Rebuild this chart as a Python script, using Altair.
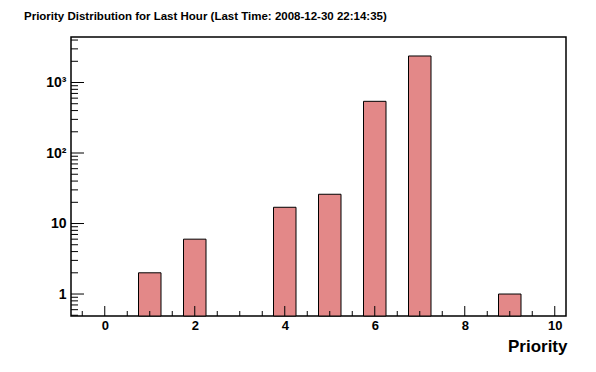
import altair as alt
import pandas as pd

# ---- data ----
priorities = [1, 2, 4, 5, 6, 7, 9]
counts = [2, 6, 17, 26, 541, 2377, 1]
bin_half_width = 0.25
x_domain = [-0.75, 10.25]
y_domain = [0.488, 4420]

x_label_values = [0, 2, 4, 6, 8, 10]
x_major_ticks = [0, 2, 4, 6, 8, 10]
x_minor_ticks = [-0.5, 0.5, 1, 1.5, 2.5, 3, 3.5, 4.5, 5, 5.5, 6.5, 7, 7.5,
                 8.5, 9, 9.5]
y_label_values = [1, 10, 100, 1000]
y_label_texts = ["1", "10", "10²", "10³"]
y_major_ticks = [1, 10, 100, 1000]
y_minor_ticks = [0.5, 0.6, 0.7, 0.8, 0.9,
                 2, 3, 4, 5, 6, 7, 8, 9,
                 20, 30, 40, 50, 60, 70, 80, 90,
                 200, 300, 400, 500, 600, 700, 800, 900,
                 2000, 3000, 4000]

title_text = "Priority Distribution for Last Hour (Last Time: 2008-12-30 22:14:35)"
x_title = "Priority"

FONT = "Liberation Sans"
W, H = 495, 279

bars_df = pd.DataFrame({"priority": priorities, "count": counts})
bars_df["lo"] = bars_df["priority"] - bin_half_width
bars_df["hi"] = bars_df["priority"] + bin_half_width

xs = alt.Scale(domain=x_domain, nice=False, zero=False)
ys = alt.Scale(type="log", domain=y_domain, nice=False)

label_expr = " : ".join(
    [f"datum.value == {v} ? '{t}'" for v, t in zip(y_label_values, y_label_texts)]
) + " : ''"

x_axis = alt.Axis(
    values=x_label_values, ticks=False, domain=False, grid=False,
    labelFont=FONT, labelFontSize=13, labelFontWeight="bold",
    labelColor="black", labelPadding=3,
    title=x_title, titleFont=FONT, titleFontSize=17, titleFontWeight="bold",
    titleColor="black", titleAnchor="end", titleAlign="right",
    titleBaseline="alphabetic", titleX=W + 1, titleY=35,
)
y_axis = alt.Axis(
    values=y_label_values, labelExpr=label_expr, ticks=False,
    domain=False, grid=False, labelFont=FONT, labelFontSize=14,
    labelFontWeight="bold", labelColor="black", labelPadding=5,
    title=None,
)

bars = alt.Chart(bars_df).mark_bar(
    fill="#e38888", stroke="black", strokeWidth=1
).encode(
    x=alt.X("lo:Q", scale=xs, axis=x_axis),
    x2="hi:Q",
    y=alt.Y("count:Q", scale=ys, axis=y_axis),
    y2=alt.datum(y_domain[0]),
)

def xticks(vals, length):
    return alt.Chart(pd.DataFrame({"v": vals})).mark_rule(
        color="black", strokeWidth=1
    ).encode(
        x=alt.X("v:Q", scale=xs, axis=x_axis),
        y=alt.value(H - length),
        y2=alt.value(H),
    )

def yticks(vals, length):
    return alt.Chart(pd.DataFrame({"v": vals})).mark_rule(
        color="black", strokeWidth=1
    ).encode(
        y=alt.Y("v:Q", scale=ys, axis=y_axis),
        x=alt.value(0),
        x2=alt.value(length),
    )

chart = alt.layer(
    bars,
    xticks(x_major_ticks, 10),
    xticks(x_minor_ticks, 5),
    yticks(y_major_ticks, 13),
    yticks(y_minor_ticks, 7),
).properties(
    width=W,
    height=H,
    title=alt.TitleParams(
        text=title_text, anchor="start", frame="group", font=FONT,
        fontSize=11.5, fontWeight="bold", color="black",
        baseline="alphabetic", offset=6, dx=-47,
    ),
    autosize=alt.AutoSizeParams(type="none"),
    padding={"left": 63, "top": 29, "right": 22, "bottom": 48},
    background="white",
).configure_view(
    stroke="black", strokeWidth=1.5
)

chart.save("out.html", embed_options={"renderer": "svg", "actions": False})
